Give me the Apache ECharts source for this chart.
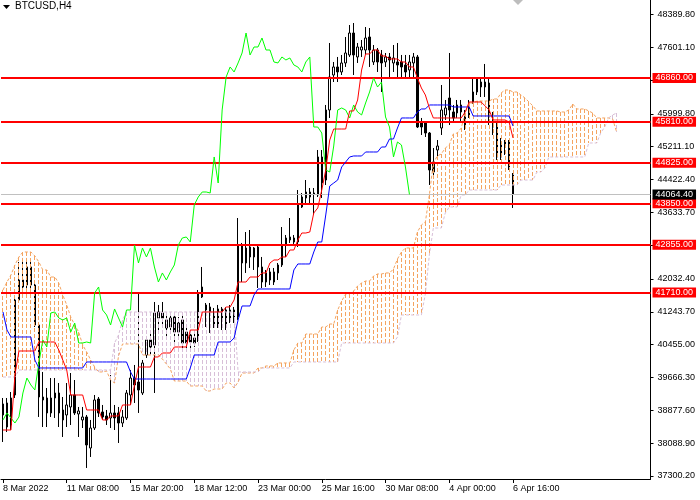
<!DOCTYPE html>
<html><head><meta charset="utf-8">
<script src="https://cdn.jsdelivr.net/npm/echarts@6/dist/echarts.min.js"></script>
<style>html,body{margin:0;padding:0;background:#fff}#c{width:700px;height:500px}</style>
</head><body><div id="c"></div>
<script>
const chartTitle = 'BTCUSD,H4';
const xTickIndex = [0,16,32,48,64,80,96,112,128];
const xTickLabels = ['8 Mar 2022','11 Mar 08:00','15 Mar 20:00','18 Mar 12:00','23 Mar 00:00','25 Mar 16:00','30 Mar 08:00','4 Apr 00:00','6 Apr 16:00'];
const yTickValues = [37300.20,38088.90,38877.60,39666.30,40455.00,41243.70,42032.40,42845.00,43633.70,44422.40,45211.10,45999.80,46800.50,47601.10,48389.80];
const levels = [46860,45810,44825,43850,42855,41710];
const lastPrice = 44064.4;
const slotCount = 163;
const chikouShift = 26;

const open = [38766,39054,38525,39246,41528,42008,41888,42321,41888,40927,
39198,39174,38814,39174,39294,38646,38766,38958,39246,38790,
38646,38718,37973,38453,39150,38838,38742,38694,38814,38814,
38573,38694,39246,39654,39558,39294,40207,40567,40447,41096,
41216,40855,40879,41120,40759,41048,40759,40687,40615,40567,
41600,41408,41360,41216,40927,41312,41288,41048,41120,41120,
42849,42417,42801,42561,42801,42321,41960,42201,41960,42177,
42369,42849,42969,43017,42921,43762,43978,44002,44074,44050,
44963,44410,46092,46932,47125,47005,47221,47413,47941,47365,
47533,47533,47845,47245,47533,47413,47245,47365,47221,47245,
47245,47173,47053,47221,47365,45804,45780,45539,44843,45131,
45659,45972,46380,46044,46020,46212,45731,45972,46284,46524,
46764,46644,46740,45900,45683,44963,45323,45323,44530];
const close = [39030,38477,39174,41528,42008,41840,42321,41888,40927,39198,
39126,38814,39174,39294,38814,38886,39006,39246,38814,38862,
38718,38045,38453,39126,38814,38718,38646,38814,38694,38573,
38718,39294,39654,39486,39366,40015,40567,40399,41216,41240,
41096,41048,41096,40759,40975,40495,40495,40519,40495,41696,
41840,41288,41168,40927,41312,41096,40879,41288,41288,42849,
42417,42777,42561,42777,42321,41960,42177,42008,42201,42369,
42849,43017,43041,42921,43810,44002,44122,44122,44098,44963,
44338,46092,46884,47125,47005,47221,47461,47941,47413,47605,
47605,47821,47533,47533,47245,47221,47365,47293,47341,47173,
47125,47005,47245,47365,45683,45683,45539,44651,44603,45227,
46092,46140,46092,45900,46212,46044,45972,46260,46524,46860,
46644,46764,45924,45683,44963,45323,45251,44723,44064.4];
const high = [39174,39174,39318,41648,42441,42537,42537,42489,41936,40975,
39799,39414,39654,39654,39534,39198,39534,39774,39606,38958,
38958,38766,38646,39246,39198,39006,38886,39726,39006,38958,
38886,39366,39847,39967,41696,40087,40663,40807,41480,41408,
41480,41240,41240,41240,41120,41168,40927,40807,40735,41768,
42321,41456,41456,41336,41408,41360,41360,41408,41360,43497,
42897,43161,43209,42801,42849,42561,42249,42297,42297,42417,
43281,43089,43497,43089,44170,44098,44410,44218,44218,45131,
45131,46212,47701,47245,47365,47413,47845,48133,48181,47701,
47773,48085,48061,47653,47581,47533,47461,47461,47653,47701,
47413,47413,47413,47461,47413,45900,45804,45563,45179,45371,
46692,46332,47461,46212,46332,46332,46092,46332,46884,46884,
46884,47197,46860,46044,45780,45419,45371,45371,44578];
const low = [38117,38357,38405,39174,41480,41768,41648,41816,40879,38718,
38477,38477,38718,38694,38477,38237,38477,38525,38766,38237,
38453,37493,37757,38405,38718,38646,38525,38453,38405,38093,
38477,38646,39006,39054,38814,39246,40135,40207,39294,40759,
40927,40615,40759,40495,40615,40327,40279,40375,40399,40519,
41576,40879,40735,40855,40855,40807,40807,40975,40975,41048,
41960,42177,42297,42249,41816,41816,41840,41888,41888,42008,
42321,42561,42897,42873,42801,43738,43858,43810,43570,44002,
43978,44290,45900,46764,46764,46932,47125,47365,46932,47221,
47365,47413,47125,47173,47005,46524,47125,46884,47005,46860,
46860,46884,46884,46860,45659,45491,45443,44290,44458,44891,
45491,45852,45731,45780,45900,45804,45611,45900,46236,46452,
46404,46404,45731,45491,44891,44891,45011,44651,43738];

const tenkan = [38405,38405,38405,39726,40303,40303,40303,40303,40303,40519,
40519,40519,40519,40519,40327,40087,39847,39246,39246,39246,
39246,38886,38886,38886,38886,38646,38646,38742,38742,38742,
39006,39006,39006,39486,39918,39918,39918,39918,40159,40159,
40255,40255,40255,40399,40399,40399,40399,40807,40807,40807,
41240,41240,41240,41240,41240,41240,41360,41360,41528,41960,
41960,41960,42080,42080,42080,42177,42177,42417,42489,42489,
42561,42561,42729,42729,42969,43137,43137,43161,43618,43738,
44170,44651,45371,45635,45635,45635,45635,46068,46068,46332,
47053,47437,47437,47533,47533,47389,47389,47317,47317,47317,
47245,47245,47125,47125,46860,46620,46452,46140,45900,45900,
45900,45900,45900,45900,45900,45900,46044,46284,46284,46284,
46284,46188,46092,45852,45852,45852,45852,45804,45419];
const kijun = [41240,40807,40639,40639,40639,40639,40639,40639,40087,39895,
39895,39895,39895,39895,39895,39895,39895,39895,39895,39895,
39895,40039,40039,40039,40039,40039,40039,40039,40039,40039,
40039,40039,39799,39630,39630,39630,39630,39630,39630,39630,
39630,39630,39630,39630,39630,39630,39630,39895,40207,40207,
40207,40207,40207,40207,40519,40519,40519,40519,40615,41048,
41384,41384,41384,41648,41792,41792,41792,41792,41792,41792,
41792,41792,41792,42249,42393,42393,42393,42393,42681,42921,
42921,43570,44266,44338,44410,44723,44843,44963,44987,44987,
44987,45083,45083,45083,45083,45203,45203,45395,45395,45659,
45900,45900,45900,45900,46044,46116,46116,46212,46212,46212,
46212,46212,46212,46164,46164,46164,46164,46164,45948,45948,
45948,45948,45948,45948,45948,45948,45948,45948,45707];
const senkouA = [41768,41960,42128,42369,42561,42681,42681,42681,42585,42441,
42249,42249,42080,42080,41936,41648,41408,41120,40927,40759,
40447,40279,40087,39918,39799,39799,39822,39606,39534,40183,
40471,40471,40471,40471,40471,40207,40207,40207,40207,40207,
40111,39991,39871,39582,39582,39582,39582,39462,39462,39462,
39462,39342,39342,39390,39390,39390,39534,39534,39414,39558,
39774,39774,39774,39774,39895,39895,39943,39943,39943,40015,
40015,40015,40015,40327,40495,40495,40711,40711,40711,40711,
40879,40879,40951,40951,41288,41504,41672,41672,41744,41864,
41936,41984,41984,42104,42153,42153,42177,42177,42273,42513,
42681,42777,42777,42777,43161,43329,43401,44050,44819,44987,
45035,45179,45251,45515,45539,45659,46020,46260,46260,46308,
46308,46308,46308,46356,46356,46500,46572,46572,46524,46524,
46452,46380,46284,46188,46068,46068,46068,46068,46068,46068,
46044,46044,46092,46236,46116,46116,46116,46068,46020,45900,
45900,45900,45900,45876,45563];
const senkouB = [39678,39678,39678,39678,39847,39847,39847,39847,39847,39847,
39847,39847,39847,39847,39847,39847,39847,39847,39847,39847,
39847,39847,39847,39847,39847,39847,39847,39847,40495,40687,
41048,41240,41240,41240,41240,41240,41240,41240,41240,41240,
41240,41240,41240,41240,41240,41240,41240,41240,41240,41240,
41240,41240,41240,41240,41240,41240,41240,41240,41240,39799,
39799,39799,39799,39799,39799,39895,39895,39895,39895,39895,
39895,39895,39895,40039,40039,40039,40039,40039,40039,40039,
40039,40039,40039,40039,40039,40495,40495,40495,40495,40495,
40495,40495,40495,40495,40495,40495,40495,40495,40495,40639,
41168,41168,41168,41168,41168,41168,41672,42609,43257,43257,
43257,43618,43762,43762,43762,44050,44050,44170,44170,44170,
44170,44170,44170,44170,44170,44290,44290,44290,44290,44290,
44410,44410,44410,44410,44603,44603,44699,44963,44963,44963,
44963,44963,44963,44963,44963,44963,44963,45299,45299,45299,
45539,45683,45900,45972,46020];

const categories = Array.from({length: slotCount}, (_, i) => String(i));
const candleData = open.map((o, i) => [o, close[i], low[i], high[i]]);
const cloudData = senkouA.map((a, i) => [i, a, senkouB[i]]);
const chikou = categories.map((_, i) => (i + chikouShift < close.length ? close[i + chikouShift] : null));

const FONT = 'Liberation Sans';
const ORANGE = '#F4A460', THISTLE = '#D8BFD8';
const chart = echarts.init(document.getElementById('c'), null, {renderer: 'canvas'});
const levelLines = levels.map(v => ({yAxis: v, lineStyle: {color: '#FF0000', width: 2, type: 'solid'},
  label: {backgroundColor: '#FF0000'}}));
levelLines.push({yAxis: lastPrice, lineStyle: {color: '#C0C0C0', width: 1, type: 'solid'}, label: {backgroundColor: '#000000'}});

chart.setOption({
  animation: false,
  backgroundColor: '#FFFFFF',
  color: [ORANGE],
  title: {text: chartTitle, left: 15, top: 1, padding: 0,
    textStyle: {fontSize: 10, fontWeight: 'normal', color: '#000', fontFamily: FONT}},
  graphic: [
    {type: 'polygon', shape: {points: [[3,5],[10,5],[6.5,9]]}, style: {fill: '#000'}},
    {type: 'polygon', shape: {points: [[513,0],[523,0],[518,5]]}, style: {fill: '#BDBDBD'}}
  ],
  grid: {left: -1.5, right: 49.5, top: 0, bottom: 21, containLabel: false},
  xAxis: {type: 'category', data: categories, boundaryGap: true,
    axisLine: {show: true, lineStyle: {color: '#000', width: 1}},
    axisTick: {show: true, interval: (idx) => xTickIndex.includes(idx), alignWithLabel: true, length: 4, lineStyle: {color: '#000'}},
    axisLabel: {interval: (idx) => xTickIndex.includes(idx),
      formatter: (v, idx) => { const k = xTickIndex.indexOf(Number(v)); return k >= 0 ? xTickLabels[k] : ''; },
      align: 'left', color: '#000', fontSize: 9, fontFamily: FONT, margin: 5},
    splitLine: {show: false}},
  yAxis: {type: 'value', position: 'right', min: 37228.1, max: 48733.7,
    axisLine: {show: true, lineStyle: {color: '#000', width: 1}},
    axisTick: {show: true, customValues: yTickValues, length: 3, lineStyle: {color: '#000'}},
    axisLabel: {customValues: yTickValues, formatter: v => Number(v).toFixed(2), color: '#000', fontSize: 9, fontFamily: FONT, margin: 7},
    splitLine: {show: false}},
  series: [
    {type: 'candlestick', name: 'BTCUSD', data: candleData, barWidth: 2, z: 2,
      itemStyle: {color: '#FFFFFF', color0: '#000000', borderColor: '#000000', borderColor0: '#000000', borderWidth: 1}},
    {type: 'custom', name: 'cloud', data: cloudData, z: 3, silent: true, progressive: 0,
      itemStyle: {color: ORANGE},
      encode: {x: 0, y: [1, 2]},
      renderItem: function (params, api) {
        const idx = params.dataIndex;
        const a = senkouA[idx], b = senkouB[idx];
        const pa = api.coord([idx, a]), pb = api.coord([idx, b]);
        const x0 = Math.round(pa[0] - 0.5);
        const top = Math.round(Math.min(pa[1], pb[1])), bot = Math.round(Math.max(pa[1], pb[1]));
        const col = (a >= b) ? ORANGE : THISTLE;
        const children = [];
        for (let y = top; y < bot; y += 6) {
          children.push({type: 'rect', shape: {x: x0, y: y, width: 1, height: Math.min(4, bot - y)},
            style: {fill: col, stroke: null, lineWidth: 0, opacity: 1}});
        }
        return {type: 'group', children: children};
      }},
    {type: 'line', name: 'Senkou A', data: senkouA, z: 4, showSymbol: false, symbol: 'none', silent: true,
      lineStyle: {color: ORANGE, width: 1, type: [3, 2]}},
    {type: 'line', name: 'Senkou B', data: senkouB, z: 4, showSymbol: false, symbol: 'none', silent: true,
      lineStyle: {color: THISTLE, width: 1, type: [3, 2]}},
    {type: 'line', name: 'Chikou', data: chikou, z: 5, showSymbol: false, symbol: 'none', silent: true,
      lineStyle: {color: '#00FF00', width: 1}},
    {type: 'line', name: 'Kijun', data: kijun, z: 5, showSymbol: false, symbol: 'none', silent: true,
      lineStyle: {color: '#0000FF', width: 1}},
    {type: 'line', name: 'Tenkan', data: tenkan, z: 5, showSymbol: false, symbol: 'none', silent: true,
      lineStyle: {color: '#FF0000', width: 1}},
    {type: 'line', name: 'levels', data: [], z: 6, silent: true,
      markLine: {silent: true, symbol: ['none', 'none'], animation: false, precision: 2,
        label: {show: true, position: 'end', distance: 2, formatter: p => Number(p.value).toFixed(2),
          color: '#FFFFFF', fontSize: 9, fontFamily: FONT, padding: [1, 3, 0, 3]},
        data: levelLines}}
  ]
});
</script></body></html>
